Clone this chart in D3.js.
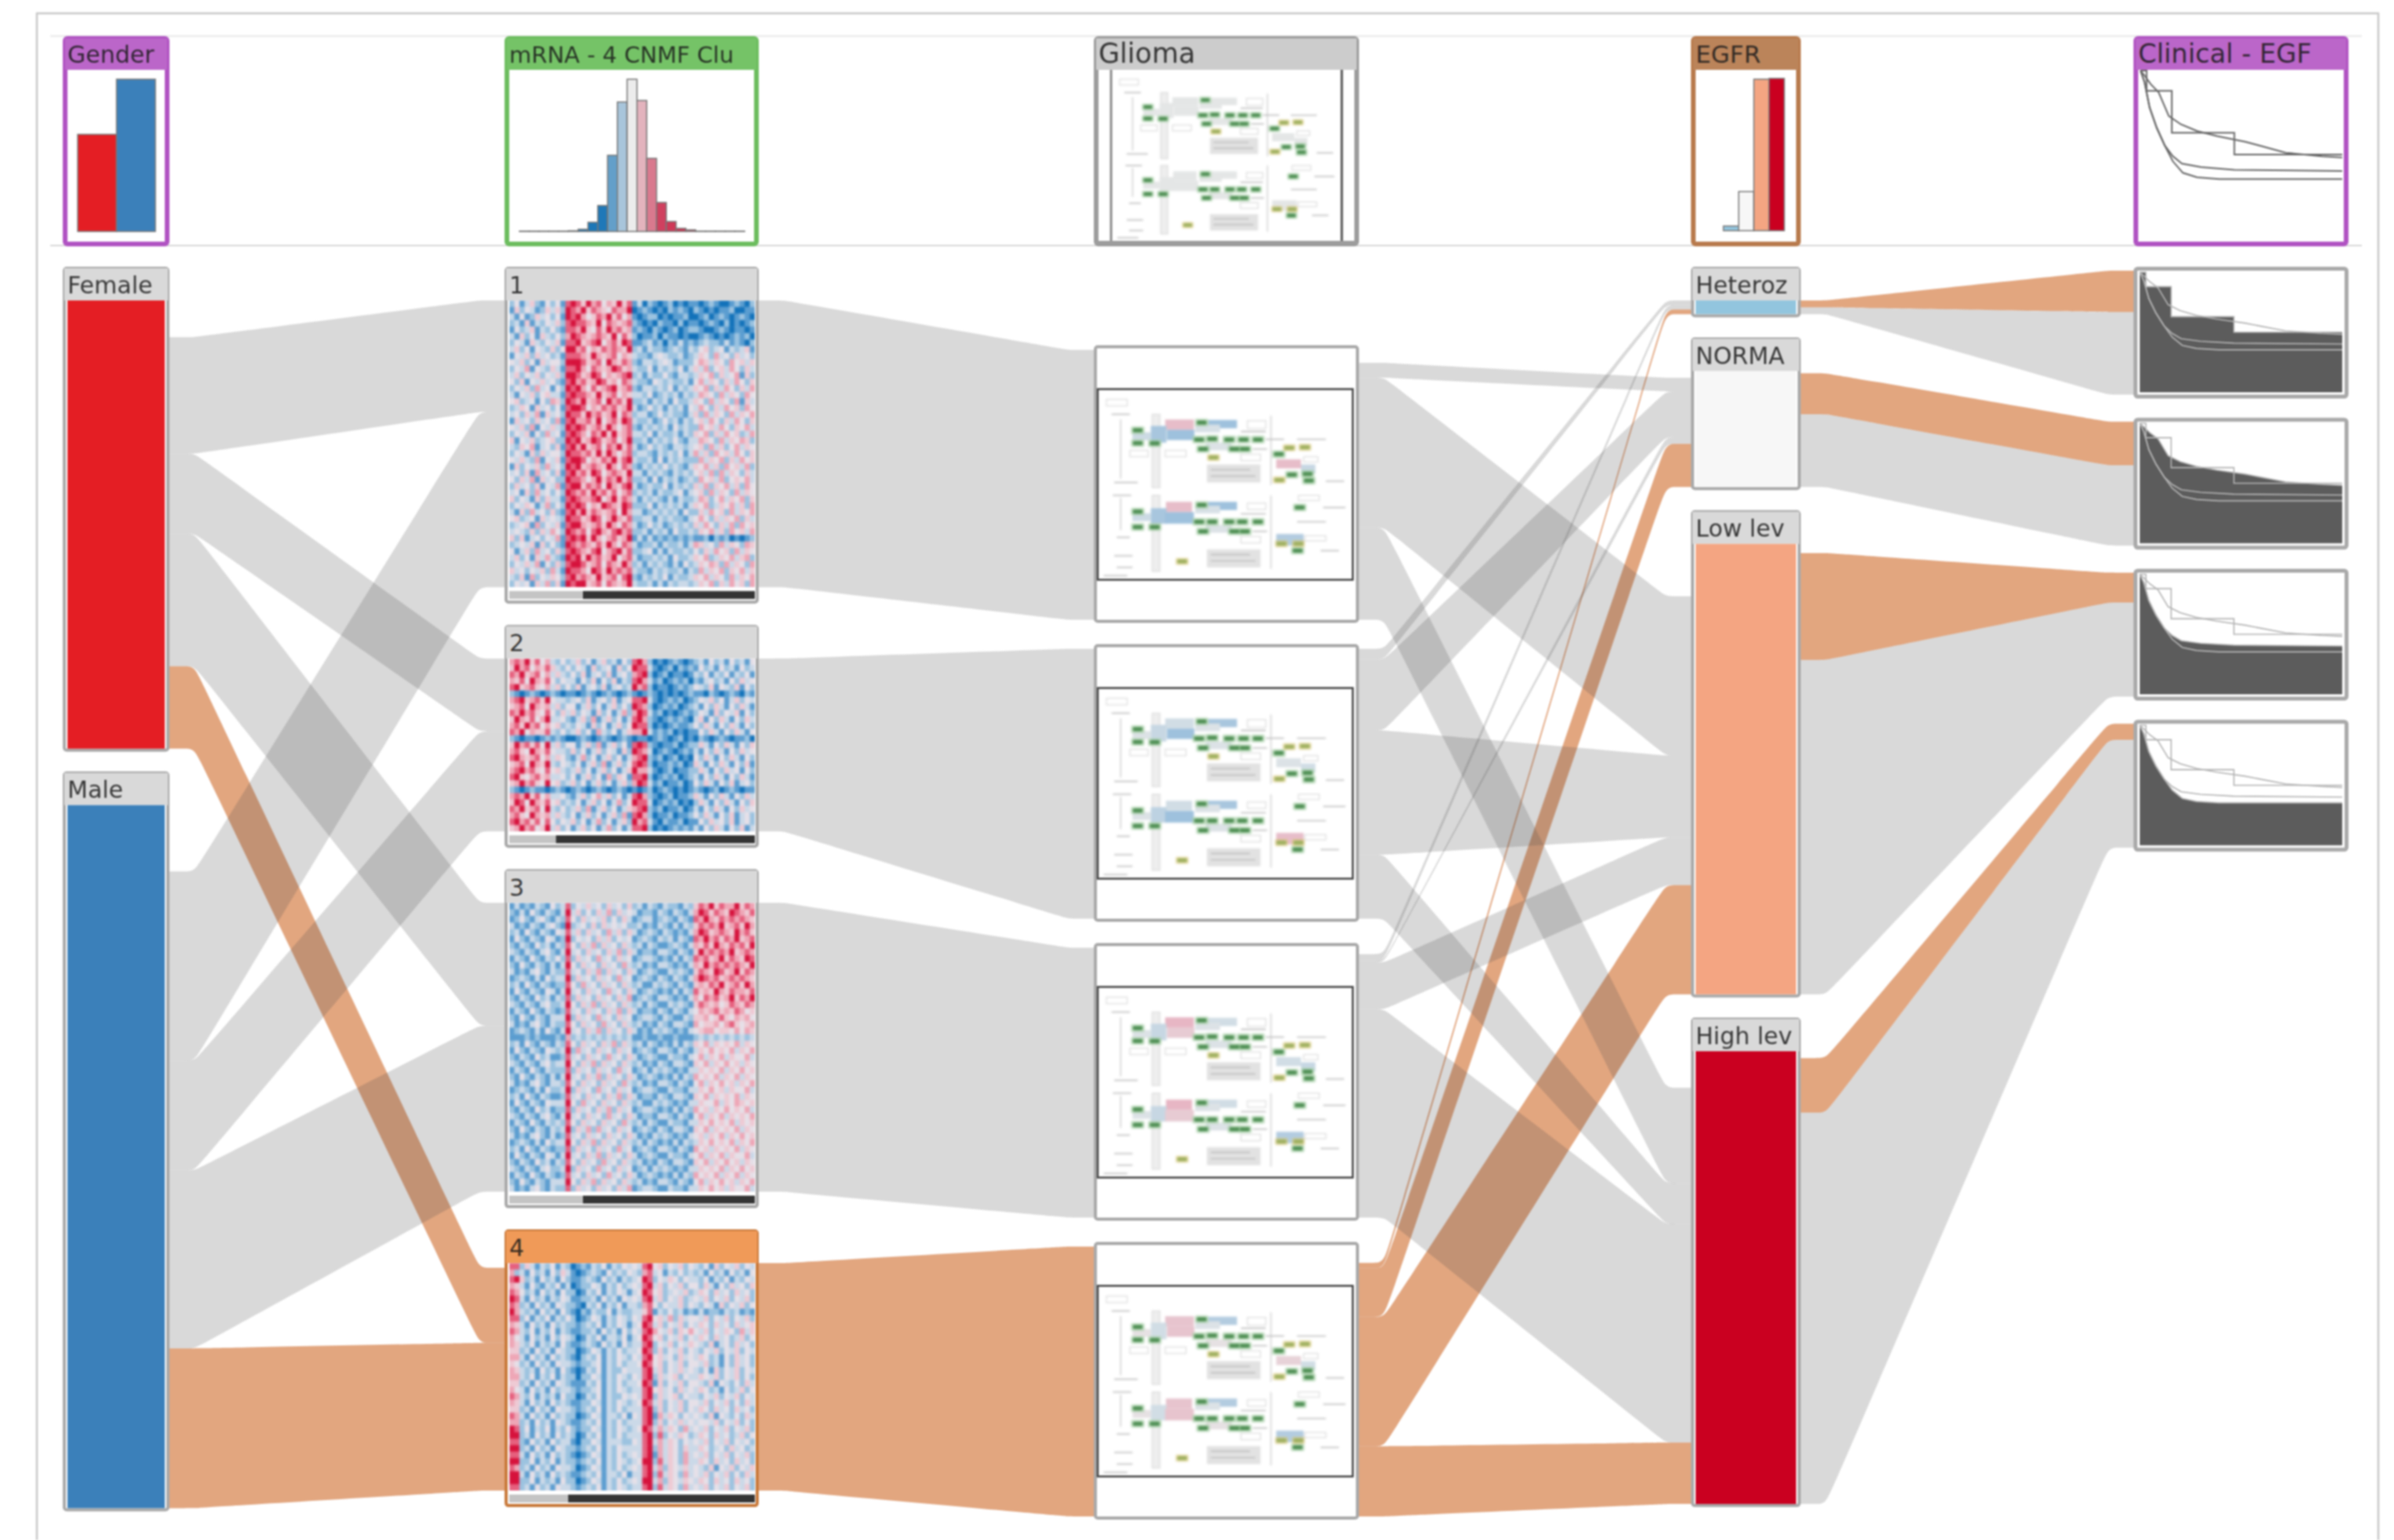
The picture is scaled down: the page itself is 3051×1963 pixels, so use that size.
<!DOCTYPE html>
<html>
<head>
<meta charset="utf-8">
<title>StratomeX</title>
<script src="https://cdnjs.cloudflare.com/ajax/libs/d3/7.8.5/d3.min.js"></script>
<style>
  body { margin: 0; background: #fff; }
  svg { display: block; filter: blur(1.1px); }
  text { font-family: 'DejaVu Sans', sans-serif; fill: #1a1a1a; fill-opacity: .85; }
</style>
</head>
<body>
<div class="chart-container"></div>
<script>
//! DATA (patients)
const genderNames = ['Female', 'Male'];
const genderCounts = [197, 309];
const clusterNames = ['1', '2', '3', '4'];
const clusterCounts = [126, 76, 127, 100];
const egfrNames = ['Heteroz', 'NORMA', 'Low lev', 'High lev'];
const egfrCounts = [6, 51, 198, 199];
const egfrHistogram = [0, 6, 51, 198, 199];
const columnTitles = ['Gender', 'mRNA - 4 CNMF Clu', 'Glioma', 'EGFR', 'Clinical - EGF'];

// first entry of every row = patients with no link to the next column
const genderOut = [[16, 51, 35, 58, 36], [29, 83, 48, 78, 70]];
const mrnaIn = [[0, 49, 77], [0, 32, 44], [0, 54, 73], [2, 33, 65]];
const gliomaOut = [[6, 0, 7, 70, 43], [0, 3, 20, 35, 18], [3, 3, 1, 22, 98], [6, 2, 18, 48, 26]];
const egfrIn = [[0, 0, 2, 2, 2], [3, 6, 20, 3, 19], [23, 70, 36, 21, 48], [16, 42, 18, 96, 27]];
const egfrOut = [[0, 3, 3], [1, 18, 32], [4, 47, 147], [3, 24, 172]];
const clinicalIn = [[18, 36], [19, 35], [13, 41], [7, 47]];

// expression histogram, % of the tallest bin
const mrnaHistogram = [.2, .2, .2, .2, .2, .4, 1.4, 6, 17, 50, 85, 100, 86, 48, 19, 6.5, 2, 1, .2, .2, .2, .2, .2];
// share of the footer bar that stays light
const clusterBarShare = [.3, .19, .3, .24];

// survival curves, time and fraction alive
const kmTime = [
  [0, .03, .155, .465, 1],
  [0, .02, .05, .09, .14, .2, .28, .38, .52, .6, .72, .9, 1],
  [0, .02, .045, .08, .12, .16, .205, .3, .465, 1],
  [0, .02, .045, .08, .12, .16, .21, .28, .39, 1]
];
const kmAlive = [
  [1, .88, .63, .5, .5],
  [1, .97, .92, .87, .73, .68, .64, .61, .576, .55, .511, .49, .483],
  [1, .93, .78, .66, .554, .49, .446, .425, .409, .402],
  [1, .93, .78, .66, .554, .46, .391, .365, .354, .354]
];

// fold change shown on the coloured boxes of the pathway map
const pathwayFold = [
  [.6, -.7, -.6, -.25, -.7, -.15, -.1, .6, -.3, .6, -.7, -.6, -.25, -.7, -.15, -.1, -.5],
  [-.2, -.6, -.3, -.1, -.7, -.1, -.1, -.1, -.2, -.2, -.6, -.4, -.1, -.7, -.1, -.1, .6],
  [.7, -.2, -.3, -.1, .4, -.1, -.1, -.2, -.3, .7, -.2, -.3, -.1, .4, -.1, -.1, -.5],
  [.5, -.5, -.2, .1, .5, -.1, .1, .3, -.2, .5, -.5, -.2, .1, .5, -.1, .1, -.5]
];

// heat maps, 0 = strong blue, 4 = neutral, 8 = strong red
const heat1 = [
'241352142417 875867465857 130210120101 101210012102','152431253528 768576547668 012101021210 210101120011','314125342418 786457685746 101220101120 012012101210',
'231513243527 877658476567 210102110201 101210201012','142351324217 768547586756 121021012012 210012101101','315241532426 876567658475 201120211010 012101012120',
'243153243517 785678467587 112312021312 123221312102','352414325248 867465767658 231322123213 245234132351','143525342317 776586567465 322134322312 354263425342',
'435241534428 887567486576 213323431222 465354264535','243614325317 786476568756 322413232413 536245364253','352435243528 875687465678 231322421332 354625346152',
'425143534217 867568756476 322143232231 463542536425','243526341428 786475678567 213323241323 546253642536','314352453317 877658567465 332412323132 365426354264',
'452341426528 768567486758 223132314223 542635426153','235415342417 887465767568 312423132314 364253645264','342536153428 775867568476 233124232213 526354263546',
'153425342617 866758467587 322312423132 453642536425','435261435328 787567586467 213232314232 264536425463','243514263417 876476858567 332413223132 546253645236',
'514352345228 785687567468 223132324213 365426354652','325461342517 868567476857 312423213323 452635246354','243152534428 776758586467 233213232413 635264536425',
'435326143517 887465768578 322314132322 263546253645','152435263428 785676586476 213232423213 546352645362','342516342517 867587467658 331323213232 453626354253',
'425361534228 776468576857 223141323123 264536245463','253425143617 885767486578 312322413232 536254635264','341526342428 767586757467 232313223413 452635426354',
'524315253317 876678468576 313232131322 365246354625','243541362428 787465876587 222413232313 546235463526','315263425217 868576567486 331232323142 253645263546',
'452341534328 775687468657 223313232213 464253546253','234516243517 886567586476 312423123232 536425362645','343252536428 767478657867 223132314223 254635264536',
'525134243617 878586467568 131312121212 112021201012','234351524218 767657586476 312231322313 653426354265','413526342527 876578467857 223413132232 425364526354',
'352415363218 785867568467 312232314223 546235463562','243536142527 887567476586 231323213142 354652635426','534243526318 776487586767 322132322313 263546254635',
'325162435427 867658567478 213232413223 546354263546','243415362518 788567476568 322313132332 354625364526'
];
const heat2 = [
'676857463242 352413523142 786201012101 231423142314','586746575324 243152341524 877310120212 142314231423','768567463532 425134251342 678201201101 324132413241',
'657486574243 314251425132 786312012120 213423142534','785675463524 251342513423 867201101212 432514325142','210121012101 101210121012 101210101012 110210121021',
'678567584332 342513425134 778310121201 243524135243','567486563524 413524135242 876201212012 314253142531','768675474253 524315241362 687312010121 243152435142',
'586574683342 135261352413 786210121210 351425314253','675867464523 243152413524 877201012112 425314253142','768465573242 352416324135 668312120101 142531425314',
'210110121210 012101210121 011012101201 021012101120','586757483524 413526135241 787210112012 253142531425','675486574332 524135243152 876301210121 314253142534',
'786567463542 136241352413 678212012010 425314253142','567486583243 241352613524 787201121201 531425314251','678675474532 352413524135 866310120112 253142534142',
'785467563342 413524162541 778201212012 314253142531','568675484523 524135241352 687312011201 425314251342','210121101210 121012101210 101201210101 210120121011',
'676857463342 135246352413 786210120112 531425314253','587486574523 241352413624 877301212010 253142531425','768567483242 352613524135 678212011201 314253142534',
'675486563532 413524135261 786201120112 425314251342','786757474243 524136241352 867310211201 142534251342','568674583524 135241362413 778201012121 314253142513'
];
const heat3 = [
'131213214237 243534253425 231321322132 576857668576','213142132138 352425362534 312213213213 687576587657','124213421327 425343524253 123312321321 768657676765',
'312132134218 234252534342 231213213132 576768567586','231421321437 352534263525 312321321213 687567658675','142132143128 243425352434 123213231321 768675768567',
'213214231327 425362534253 231321123213 657586576758','321321342138 342534253625 312213321321 586767685676','132142132427 253426342534 123321213132 767568576587',
'214213213138 425342534263 231213321213 658676767658','312134213227 342536253425 312321132321 576587568576','123213142338 253425342634 123213213213 687675676765',
'231421321227 426342534253 231132321321 565768567586','142132143138 342534263425 312321213132 756586576657','213214231327 253425342536 123213321213 647675685768',
'321321342238 425362534253 231321132321 576564576576','132142132127 342534253625 312213213213 465675657645','214213213338 253426342534 123321321132 556457546564',
'312134213227 425342634253 231213213321 645564675456','123213142138 342536253425 312132321213 456645546465','111212111216 232323232323 112112112111 232323232323',
'231421321327 425342536253 231321213132 546354546354','142132143238 263425342534 123213321321 354645463546','213214231127 342534263425 312321132213 463546354463',
'321321342338 425362534253 231213213321 546354645354','132142132227 253425342634 123132321213 354546354645','214213213138 342536253425 312321213132 645463546354',
'312134213327 425342534263 231213321321 463546453546','123213142238 253426342534 123321132213 354645354463','231421321127 342534253625 312213213321 546354546354',
'142132143338 426342534253 231132321213 354463546545','213214231227 253425362534 123321213132 645354645463','321321342138 342534263425 312213321321 463546354546',
'132142132327 425342534263 231321132213 354645463545','214213213238 253626342534 123213213321 546354546354','312134213127 342534253425 312132321213 453546354645',
'123213142338 425362534253 231321213132 354645463546','231421321227 253425342634 123213321321 645354546354','142132143138 342536253425 312321132213 463546354463',
'213214231327 425342634253 231213213321 546354645354','321321342238 253426342534 123132321213 354546354645','132142132127 342534263425 312321213132 645463546354',
'214213213338 425362534253 231213321321 463546453546','312134213227 253425342536 123321132213 354645354463'
];
const heat4 = [
'772531324132 012132413243 437845243524 324152435243','623142314253 101232142324 326734132423 231423142314','785231423142 112321423132 348724354243 324132413243',
'653142132413 012243132423 437835243524 425314253425','764231423142 201324132431 348745234352 354253425342','873142313243 112231423143 437835243523 435243524352',
'762314231432 210324132413 326742433524 324315243524','863231423142 102132241322 335713242312 131221323121','772413241324 201243132432 437845362534 435243524352',
'653142314232 212324132431 348735243524 354253425345','763241324132 112231423142 437864352546 435243542635','643142314243 201324133241 348745243524 354253423524',
'653241323142 112321423142 337824352435 432513425342','552314231432 201243132423 348725243524 324352435243','663142314232 102324132432 437845342534 354231425342',
'542314231433 212234132423 348745243524 435231425342','653231423142 101324132243 337835243534 324152435243','663241324132 202243132432 437825345243 354352435242',
'552314231432 111324132423 348715243524 432514324253','643142314233 212234132432 337845342534 354231423524','763241323142 201324132243 437825345243 324352435243',
'653142314232 112243132432 348735243524 435243524253','552314231433 212324132423 337825243524 354253425342','763142314232 201243133241 437816354243 432514324253',
'662314231432 112324132423 337825243534 344352435242','872413241324 212243132432 348736354263 435243524352','882314231423 201324132423 337827243542 354253423524',
'772142314233 102243133322 437836354243 435243524342','882314231432 212324132433 337826354253 354234253423','773142314232 101243132423 437816354263 435243524352',
'882241324132 212324132432 348827354263 354253425342','762314231433 201243132423 437836254353 432514352435','883142314232 112324133241 337827354263 435243524253',
'882241323142 201243132423 438836254354 354253425342','772314231433 212324132432 337827354263 435243524352'
];
const heatMaps = [heat1, heat2, heat3, heat4];

//! CONSTS
const WIDTH = 3051;
const HEIGHT = 1963;
const COLS = { gender: [80, 216], mrna: [643, 967], glioma: [1394, 1732], egfr: [2155, 2295], clinical: [2719, 2993] };
const BLOCK_TOP = 340;
const GAP = 27;
const HEADER = 43;
const STUB = 34;
const GREY_BORDER = '#a9a9a9';
const GREY_HEAD = '#d9d9d9';
const PURPLE = ['#bb66c9', '#b052c2'];
const GREEN = ['#75c367', '#6cbd5e'];
const BROWN = ['#bb845a', '#b87a4c'];
const GLIOMA_HEAD = ['#cccccc', '#9c9c9c'];

const genderColors = ['#e41e24', '#3b80ba'];
const egfrColors = ['#92c5de', '#f7f7f7', '#f4a582', '#ca0020'];

// pathway map glyph, in its own drawing units
const MAP_W = 970;
const MAP_H = 735;
const mapRails = [[205, 95, 30, 285], [205, 410, 30, 295]];
const mapRules = [[660, 100, 270], [660, 410, 285], [85, 115, 230], [85, 420, 125]];
const mapPanels = [[415, 290, 205, 70], [415, 620, 205, 70]];
const mapLabels = [[30, 37, 80, 25], [120, 235, 70, 25], [255, 235, 80, 25], [545, 250, 75, 25], [570, 120, 70, 30],
  [545, 570, 75, 25], [570, 440, 70, 25], [785, 260, 55, 20], [765, 410, 80, 20], [790, 567, 80, 20]];
const mapFoldBoxes = [[255, 115, 110, 40], [420, 117, 110, 32], [200, 140, 60, 65], [130, 165, 70, 30], [262, 155, 105, 40],
  [370, 135, 95, 30], [410, 205, 100, 30], [680, 270, 95, 35], [775, 290, 55, 35], [258, 435, 100, 40], [418, 435, 112, 32],
  [200, 460, 60, 60], [130, 480, 70, 30], [255, 475, 110, 45], [370, 450, 95, 30], [410, 525, 100, 30], [680, 560, 105, 45]];
const mapGenes = [[150, 157], [150, 207], [215, 208], [395, 127], [385, 193], [435, 190], [500, 193], [555, 193], [610, 193],
  [400, 230], [520, 230], [560, 230], [690, 250], [740, 330], [800, 327], [805, 353], [150, 473], [150, 533], [215, 533],
  [395, 447], [385, 513], [435, 513], [500, 513], [550, 513], [610, 513], [400, 550], [520, 550], [560, 550], [770, 457], [762, 625]];
const mapMetabolites = [[440, 263], [730, 225], [790, 223], [692, 350], [320, 667], [700, 598], [765, 598]];
const mapDashes = [[50, 95, 70], [60, 360, 90], [55, 410, 70], [70, 573, 50], [60, 645, 70], [70, 690, 60], [760, 192, 110],
  [545, 162, 95], [545, 482, 95], [590, 230, 55], [590, 550, 55], [640, 192, 70], [870, 355, 70], [860, 457, 85], [760, 513, 110],
  [850, 625, 70], [430, 310, 150], [430, 335, 170], [430, 640, 150], [430, 665, 170], [20, 722, 90]];

//! SCALES
const patients = d3.scaleLinear().domain([0, 1]).range([0, 2.9]);
const heatColor = d3.scaleLinear().domain([0, 1, 2, 3, 4, 5, 6, 7, 8])
  .range(['#1272ba', '#5b9dd0', '#9cc3e0', '#cbd9e8', '#e6e0e8', '#eecad4', '#eea6b6', '#e6607e', '#d6123c']);
const foldColor = d3.scaleLinear().domain([-1, 0, 1]).range(['#7fb0d8', '#e6e8e8', '#e8a0b4']);
const histColor = d3.scaleLinear().domain([0, 8, 11, 14, 22]).range(['#0571b0', '#1f78b8', '#ececec', '#d0405f', '#ca0020']);

//! SVG
const svg = d3.select('.chart-container')
  .append('svg')
  .attr('width', WIDTH)
  .attr('height', HEIGHT);

const defs = svg.append('defs');
let clipId = 0;
const clipped = (g, x, y, w, h) => {
  const id = `clip${clipId++}`;
  defs.append('clipPath').attr('id', id).append('rect').attr('x', x).attr('y', y).attr('width', w).attr('height', h);
  return g.append('g').attr('clip-path', `url(#${id})`);
};

// frame round the canvas
const frame = svg.append('g').attr('fill', 'none');
frame.append('path').attr('d', `M47 ${HEIGHT}V17H3031V${HEIGHT}`).attr('stroke', '#c8c8c8').attr('stroke-width', 2.5);
frame.append('path').attr('d', 'M64 46H3010').attr('stroke', '#ececec').attr('stroke-width', 2.5);
frame.append('path').attr('d', 'M64 313H3010').attr('stroke', '#d8d8d8').attr('stroke-width', 2);

const ribbonLayer = svg.append('g');
const blockLayer = svg.append('g');

//! LAYOUT
const stackBlocks = (counts, footer, gap = GAP) => {
  let top = BLOCK_TOP;
  return counts.map((c) => {
    const b = { top, fillTop: top + HEADER, fillBottom: top + HEADER + patients(c) };
    b.bottom = b.fillBottom + footer;
    top = b.bottom + gap;
    return b;
  });
};
const genderBlocks = stackBlocks(genderCounts, 2);
const mrnaBlocks = stackBlocks(clusterCounts, 21);
const egfrBlocks = stackBlocks(egfrCounts, 4, 25.5);
const gliomaBlocks = clusterNames.map((d, i) => ({ top: 440 + i * 381, bottom: 440 + i * 381 + 354 }));
const clinicalBlocks = clinicalIn.map((d, i) => ({ top: 340 + i * 192.5, bottom: 340 + i * 192.5 + 168 }));

// cuts one side of a block into bands, values stacked from top to bottom
const bands = (values, y0, y1) => {
  const y = d3.scaleLinear().domain([0, d3.sum(values)]).range([y0, y1]);
  const ends = Array.from(d3.cumsum(values));
  return values.map((v, i) => [y(ends[i] - v), y(ends[i])]);
};

//! RIBBONS
const edge = d3.line().curve(d3.curveBasis);
const edgePoints = (x0, y0, x1, y1) => {
  const slope = (y1 - y0) / (x1 - x0 - 2 * STUB);
  return [[x0, y0], [x0 + STUB - 12, y0], [x0 + STUB, y0], [x0 + STUB + 12, y0 + slope * 12],
    [x1 - STUB - 12, y1 - slope * 12], [x1 - STUB, y1], [x1 - STUB + 12, y1], [x1, y1]];
};
const ribbonPath = (x0, a, x1, b) => {
  const top = edge(edgePoints(x0, a[0], x1, b[0]));
  const bottom = edge(edgePoints(x0, a[1], x1, b[1]).reverse());
  return `${top}L${bottom.slice(1)}Z`;
};

const ribbons = [];
const addRibbon = (x0, a, x1, b, selected) => ribbons.push({ d: ribbonPath(x0, a, x1, b), selected });

// Gender -> mRNA
const genderBands = genderOut.map((row, i) => bands(row, genderBlocks[i].fillTop, genderBlocks[i].fillBottom));
const mrnaBands = mrnaIn.map((row, i) => bands(row, mrnaBlocks[i].fillTop, mrnaBlocks[i].fillBottom));
genderNames.forEach((g, i) => clusterNames.forEach((c, j) => {
  addRibbon(COLS.gender[1] - 2, genderBands[i][j + 1], COLS.mrna[0] + 2, mrnaBands[j][i + 1], j === 3);
}));

// mRNA -> Glioma, one to one
clusterNames.forEach((c, i) => {
  addRibbon(COLS.mrna[1] - 2, [mrnaBlocks[i].fillTop, mrnaBlocks[i].fillBottom],
    COLS.glioma[0] + 2, [gliomaBlocks[i].top + 6, gliomaBlocks[i].bottom - 4], i === 3);
});

// Glioma -> EGFR
const gliomaBands = gliomaOut.map((row, i) => bands(row, gliomaBlocks[i].top + 6, gliomaBlocks[i].bottom - 4));
const egfrInBands = egfrIn.map((row, i) => bands(row, egfrBlocks[i].fillTop, egfrBlocks[i].fillBottom));
clusterNames.forEach((c, i) => egfrNames.forEach((e, j) => {
  if (gliomaOut[i][j + 1] === 0) return;
  addRibbon(COLS.glioma[1] - 2, gliomaBands[i][j + 1], COLS.egfr[0] + 2, egfrInBands[j][i + 1], i === 3);
}));

// EGFR -> Clinical, selected part and the rest
egfrNames.forEach((e, i) => {
  const out = bands(egfrOut[i], egfrBlocks[i].fillTop, egfrBlocks[i].fillBottom);
  const into = bands(clinicalIn[i], clinicalBlocks[i].top + 5, clinicalBlocks[i].bottom - 5);
  addRibbon(COLS.egfr[1] - 2, out[1], COLS.clinical[0] + 2, into[0], true);
  addRibbon(COLS.egfr[1] - 2, out[2], COLS.clinical[0] + 2, into[1], false);
});

// orange first, grey on top of it
ribbonLayer.selectAll('path')
  .data(ribbons.slice().sort((a, b) => d3.descending(a.selected, b.selected)))
  .enter()
  .append('path')
  .attr('d', (d) => d.d)
  .attr('fill', (d) => (d.selected ? 'rgb(197,77,0)' : '#4a4a4a'))
  .attr('fill-opacity', (d) => (d.selected ? 0.5 : 0.21));

//! BLOCKS
const drawBlock = (x, top, bottom, head, border, headBottom, name, size, sw = 4) => {
  const g = blockLayer.append('g');
  g.append('rect').attr('x', x[0] + sw / 2).attr('y', top + sw / 2)
    .attr('width', x[1] - x[0] - sw).attr('height', bottom - top - sw)
    .attr('rx', 3).attr('fill', '#fff').attr('stroke', border).attr('stroke-width', sw);
  if (headBottom) {
    g.append('rect').attr('x', x[0] + sw / 2).attr('y', top + sw / 2)
      .attr('width', x[1] - x[0] - sw).attr('height', headBottom - top - sw / 2).attr('fill', head);
    g.append('text').attr('x', x[0] + 6).attr('y', top + 34).attr('font-size', size).text(name);
  }
  return g;
};

// Gender
genderNames.forEach((name, i) => {
  const b = genderBlocks[i];
  const g = drawBlock(COLS.gender, b.top, b.bottom + 2, GREY_HEAD, GREY_BORDER, b.fillTop, name, 30);
  g.append('rect').attr('x', COLS.gender[0] + 6).attr('y', b.fillTop)
    .attr('width', COLS.gender[1] - COLS.gender[0] - 12).attr('height', b.fillBottom - b.fillTop)
    .attr('fill', genderColors[i]);
});

// mRNA clusters
clusterNames.forEach((name, i) => {
  const b = mrnaBlocks[i];
  const selected = i === 3;
  const g = drawBlock(COLS.mrna, b.top, b.bottom, selected ? '#f09a58' : GREY_HEAD, selected ? '#c8793a' : GREY_BORDER, b.fillTop, name, 30);
  const left = COLS.mrna[0] + 6;
  const right = COLS.mrna[1] - 5;
  const rows = heatMaps[i].map((r) => r.replace(/ /g, ''));
  const xBand = d3.scaleBand().domain(d3.range(rows[0].length)).range([left, right]);
  const yBand = d3.scaleBand().domain(d3.range(rows.length)).range([b.fillTop, b.fillBottom]);
  const clip = clipped(g, left, b.fillTop, right - left, b.fillBottom - b.fillTop);
  clip.append('rect').attr('x', left).attr('y', b.fillTop).attr('width', right - left)
    .attr('height', b.fillBottom - b.fillTop).attr('fill', heatColor(4));
  const cells = clip.append('g').style('filter', 'blur(1.3px)');
  rows.forEach((row, r) => {
    cells.selectAll(null)
      .data(row.split(''))
      .enter()
      .append('rect')
      .attr('x', (d, c) => xBand(c))
      .attr('y', yBand(r))
      .attr('width', xBand.bandwidth() + 0.5)
      .attr('height', yBand.bandwidth() + 0.5)
      .attr('fill', (d) => heatColor(+d));
  });
  // footer bar
  const share = d3.scaleLinear().domain([0, 1]).range([left, right]);
  const barY = b.fillBottom + 5;
  g.append('rect').attr('x', left).attr('y', barY).attr('width', share(clusterBarShare[i]) - left).attr('height', 10).attr('fill', '#c4c4c4');
  g.append('rect').attr('x', share(clusterBarShare[i])).attr('y', barY).attr('width', right - share(clusterBarShare[i])).attr('height', 10).attr('fill', '#343434');
});

// EGFR
egfrNames.forEach((name, i) => {
  const b = egfrBlocks[i];
  const g = drawBlock(COLS.egfr, b.top, b.bottom, GREY_HEAD, GREY_BORDER, b.fillTop, name, 30);
  g.append('rect').attr('x', COLS.egfr[0] + 6).attr('y', b.fillTop)
    .attr('width', COLS.egfr[1] - COLS.egfr[0] - 12).attr('height', b.fillBottom - b.fillTop)
    .attr('fill', egfrColors[i]);
});

//! PATHWAY MAP
const drawMap = (parent, x, y, w, h, folds) => {
  const mx = d3.scaleLinear().domain([0, MAP_W]).range([x, x + w]);
  const my = d3.scaleLinear().domain([0, MAP_H]).range([y, y + h]);
  const sx = (v) => v * w / MAP_W;
  const sy = (v) => v * h / MAP_H;
  const g = clipped(parent, x, y, w, h).append('g').style('filter', 'blur(0.8px)');
  const rects = (list, fill, stroke) => g.selectAll(null).data(list).enter().append('rect')
    .attr('x', (d) => mx(d[0])).attr('y', (d) => my(d[1]))
    .attr('width', (d) => sx(d[2])).attr('height', (d) => sy(d[3]))
    .attr('fill', fill).attr('stroke', stroke).attr('stroke-width', 1);
  rects(mapRails, '#eeeeee', '#d4d4d4');
  rects(mapPanels, '#e2e2e2', 'none');
  rects(mapLabels, '#ffffff', '#d2d2d2');
  rects(mapFoldBoxes, (d, i) => (folds ? foldColor(folds[i]) : '#e4e6e6'), 'none');
  g.selectAll(null).data(mapRules).enter().append('line')
    .attr('x1', (d) => mx(d[0])).attr('x2', (d) => mx(d[0]))
    .attr('y1', (d) => my(d[1])).attr('y2', (d) => my(d[1] + d[2]))
    .attr('stroke', '#c4c4c4').attr('stroke-width', 1.2);
  g.selectAll(null).data(mapDashes).enter().append('line')
    .attr('x1', (d) => mx(d[0])).attr('x2', (d) => mx(d[0] + d[2]))
    .attr('y1', (d) => my(d[1])).attr('y2', (d) => my(d[1]))
    .attr('stroke', '#bdbdbd').attr('stroke-width', 1.6);
  const nodes = (list, fill, pad, opacity) => g.selectAll(null).data(list).enter().append('rect')
    .attr('x', (d) => mx(d[0] - 19 - pad)).attr('y', (d) => my(d[1] - 8 - pad))
    .attr('width', sx(38 + 2 * pad)).attr('height', sy(16 + 2 * pad)).attr('rx', 2)
    .attr('fill', fill).attr('fill-opacity', opacity);
  nodes(mapGenes, '#a8d0a8', 7, 0.7);
  nodes(mapGenes, '#4f8f54', 0, 1);
  nodes(mapMetabolites, '#d9c878', 6, 0.6);
  nodes(mapMetabolites, '#9fb060', 0, 1);
};

// Glioma
clusterNames.forEach((name, i) => {
  const b = gliomaBlocks[i];
  const g = drawBlock(COLS.glioma, b.top, b.bottom, null, GREY_BORDER, null, '', 0);
  g.append('rect').attr('x', COLS.glioma[0] + 5).attr('y', b.top + 56).attr('width', 325).attr('height', 243)
    .attr('fill', '#fff').attr('stroke', '#444').attr('stroke-width', 2.5);
  drawMap(g, COLS.glioma[0] + 6, b.top + 57, 323, 241, pathwayFold[i]);
});

//! SURVIVAL CURVES
const kmX = d3.scaleLinear().domain([0, 1]);
const kmY = d3.scaleLinear().domain([0, 1]);
const kmCurve = (i) => (i === 0 ? d3.curveStepAfter : d3.curveLinear);
const kmPoints = (i) => kmTime[i].map((t, j) => [t, kmAlive[i][j]]);
const kmLine = (i) => d3.line().curve(kmCurve(i)).x((d) => kmX(d[0])).y((d) => kmY(d[1]))(kmPoints(i));
const kmArea = (i) => d3.area().curve(kmCurve(i)).x((d) => kmX(d[0])).y0(kmY(0)).y1((d) => kmY(d[1]))(kmPoints(i));

clinicalBlocks.forEach((b, i) => {
  const g = drawBlock(COLS.clinical, b.top, b.bottom, null, GREY_BORDER, null, '', 0, 5);
  kmX.range([COLS.clinical[0] + 8, COLS.clinical[1] - 8]);
  kmY.range([b.bottom - 8, b.top + 7]);
  g.append('path').attr('d', kmArea(i)).attr('fill', '#5c5c5c');
  kmTime.forEach((t, j) => {
    g.append('path').attr('d', kmLine(j)).attr('fill', 'none').attr('stroke', '#b4b4b4').attr('stroke-width', 1.6);
  });
});

//! COLUMN HEADERS
const headerTop = 46;
const headerBottom = 314;
const drawHeader = (x, colors, title, size) => drawBlock(x, headerTop, headerBottom, colors[0], colors[1], headerTop + 43, title, size, 6);

// Gender bars
const gGender = drawHeader(COLS.gender, PURPLE, columnTitles[0], 30);
const genderX = d3.scaleBand().domain(genderNames).range([99, 198]);
const genderY = d3.scaleLinear().domain([0, d3.max(genderCounts)]).range([295, 101]);
gGender.selectAll(null).data(genderNames).enter().append('rect')
  .attr('x', (d) => genderX(d)).attr('y', (d, i) => genderY(genderCounts[i]))
  .attr('width', genderX.bandwidth()).attr('height', (d, i) => 295 - genderY(genderCounts[i]))
  .attr('fill', (d, i) => genderColors[i]).attr('stroke', '#777').attr('stroke-width', 1.5);

// mRNA histogram
const gMrna = drawHeader(COLS.mrna, GREEN, columnTitles[1], 29);
const mrnaX = d3.scaleBand().domain(d3.range(mrnaHistogram.length)).range([662, 949]);
const mrnaY = d3.scaleLinear().domain([0, 100]).range([295, 101]);
gMrna.selectAll(null).data(mrnaHistogram).enter().append('rect')
  .attr('x', (d, i) => mrnaX(i)).attr('y', (d) => mrnaY(d))
  .attr('width', mrnaX.bandwidth()).attr('height', (d) => 295 - mrnaY(d))
  .attr('fill', (d, i) => histColor(i)).attr('stroke', '#777').attr('stroke-width', 1.5);

// Glioma map
const gGlioma = drawHeader(COLS.glioma, GLIOMA_HEAD, columnTitles[2], 35);
drawMap(gGlioma, 1418, 90, 290, 217, null);
gGlioma.append('path').attr('d', 'M1416 89V309').attr('stroke', '#8a8a8a').attr('stroke-width', 3);
gGlioma.append('path').attr('d', 'M1710 89V309').attr('stroke', '#555').attr('stroke-width', 3);
gGlioma.append('rect').attr('x', 1397).attr('y', headerBottom - 7).attr('width', 332).attr('height', 5).attr('fill', '#9c9c9c');

// EGFR histogram
const gEgfr = drawHeader(COLS.egfr, BROWN, columnTitles[3], 31);
const egfrX = d3.scaleBand().domain(d3.range(egfrHistogram.length)).range([2177, 2274]);
const egfrY = d3.scaleLinear().domain([0, d3.max(egfrHistogram)]).range([294, 100]);
const egfrBarColors = ['#ffffff'].concat(egfrColors);
gEgfr.selectAll(null).data(egfrHistogram).enter().append('rect')
  .attr('x', (d, i) => egfrX(i)).attr('y', (d) => egfrY(d))
  .attr('width', egfrX.bandwidth()).attr('height', (d) => 294 - egfrY(d))
  .attr('fill', (d, i) => egfrBarColors[i]).attr('stroke', '#777').attr('stroke-width', 1.5);

// Clinical curves
const gClinical = drawHeader(COLS.clinical, PURPLE, columnTitles[4], 33.6);
kmX.range([2728, 2985]);
kmY.range([304, 90]);
kmTime.forEach((t, j) => {
  gClinical.append('path').attr('d', kmLine(j)).attr('fill', 'none').attr('stroke', '#666').attr('stroke-width', 2);
});
</script>
</body>
</html>
